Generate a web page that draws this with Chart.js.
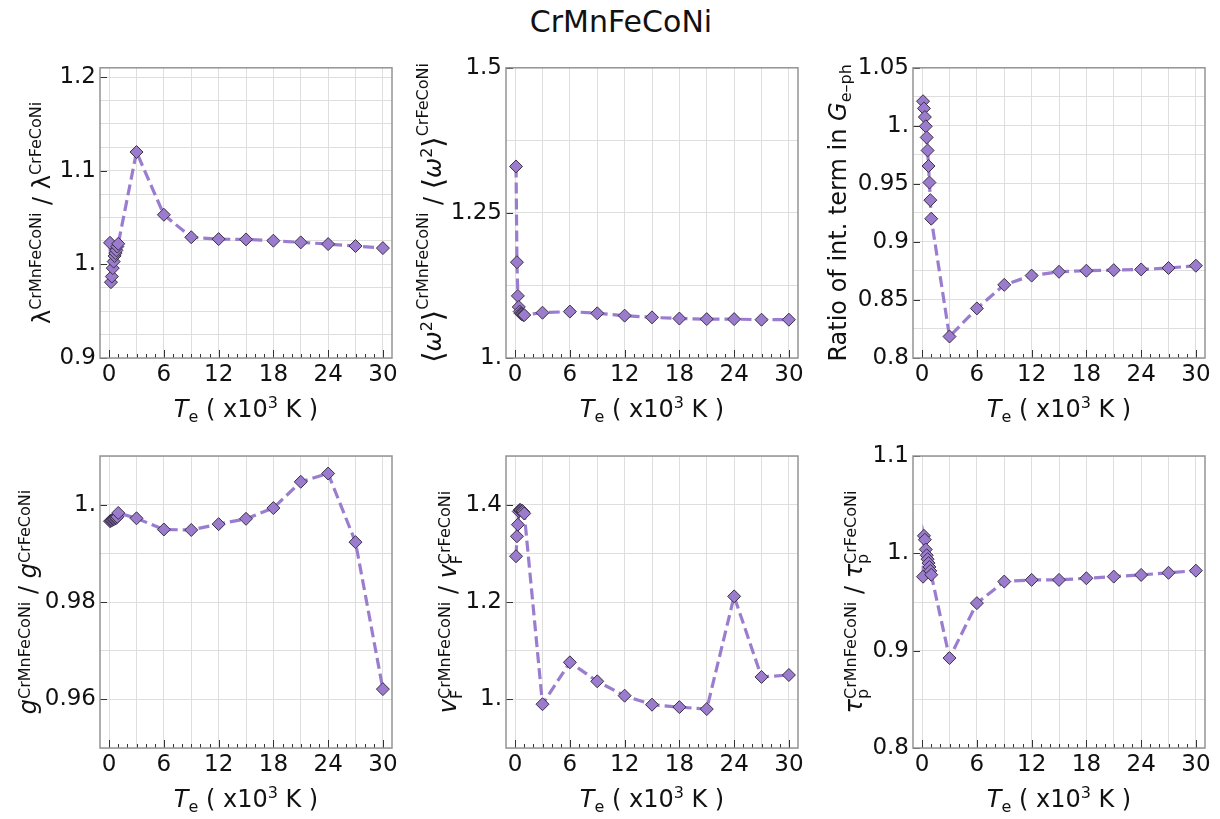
<!DOCTYPE html>
<html>
<head>
<meta charset="utf-8">
<script src="https://cdn.jsdelivr.net/npm/chart.js@4.4.0/dist/chart.umd.min.js"></script>
<style>
  body { margin: 0; background: #fff; width: 1220px; height: 819px; position: relative; overflow: hidden; font-family: "DejaVu Sans"; }
  #title { position: absolute; left: 11px; top: 2px; width: 1220px; text-align: center; font-size: 30px; line-height: 40px; color: #111; }
  canvas { position: absolute; }
</style>
</head>
<body>
<div id="title">CrMnFeCoNi</div>
<script>
// electron temperature (x10^3 K)
const temps = [0.1, 0.2, 0.3, 0.4, 0.5, 0.6, 0.7, 0.8, 0.9, 1.0, 3, 6, 9, 12, 15, 18, 21, 24, 27, 30];

// ratios CrMnFeCoNi / CrFeCoNi
const lambdaRatio = [1.023, 0.981, 0.987, 0.996, 1.003, 1.009, 1.012, 1.015, 1.019, 1.022, 1.120, 1.053, 1.029, 1.027, 1.0267, 1.0253, 1.0235, 1.0217, 1.0196, 1.0174];
const omegaRatio = [1.330, 1.165, 1.107, 1.088, 1.080, 1.077, 1.076, 1.075, 1.074, 1.074, 1.078, 1.080, 1.077, 1.073, 1.070, 1.068, 1.067, 1.067, 1.066, 1.066];
const gephRatio = [1.0212, 1.015, 1.0076, 0.9996, 0.990, 0.9788, 0.9654, 0.9512, 0.936, 0.920, 0.8185, 0.8427, 0.863, 0.871, 0.8743, 0.8752, 0.8757, 0.8763, 0.8775, 0.8795];
const dosRatio = [0.9966, 0.9967, 0.9968, 0.9969, 0.9970, 0.9971, 0.9972, 0.9973, 0.9975, 0.9983, 0.9972, 0.9949, 0.9948, 0.9960, 0.9971, 0.9993, 1.0047, 1.0064, 0.9923, 0.9621];
const vfRatio = [1.294, 1.335, 1.359, 1.386, 1.389, 1.389, 1.388, 1.387, 1.385, 1.382, 0.990, 1.076, 1.037, 1.0075, 0.989, 0.984, 0.980, 1.2116, 1.046, 1.050];
const tauRatio = [0.976, 1.018, 1.014, 1.004, 0.998, 0.994, 0.990, 0.986, 0.982, 0.978, 0.8924, 0.9488, 0.971, 0.9727, 0.9727, 0.9744, 0.9761, 0.9778, 0.980, 0.9822];

// tick labels
const xTicks = [0, 6, 12, 18, 24, 30];
const lambdaTicks = [0.9, 1.0, 1.1, 1.2];
const omegaTicks = [1.0, 1.25, 1.5];
const gephTicks = [0.8, 0.85, 0.9, 0.95, 1.0, 1.05];
const dosTicks = [0.96, 0.98, 1.0];
const vfTicks = [1.0, 1.2, 1.4];
const tauTicks = [0.8, 0.9, 1.0, 1.1];

const FONT = '"DejaVu Sans"';
const LINE = 'rgba(150, 118, 204, 0.95)';
const FILL = '#9a7bcc';
const EDGE = '#3a3148';
const GRID = '#dedede';
const FRAME = '#949494';

const colLeft = [0, 406, 812], colW = [406, 406, 408];
const rowTop = [50, 430], rowH = [380, 389];
const plotLeft = [100, 506, 913], plotTop = [66, 456], PLOT = 292;

const TICK = 23, BIG = 24, SMALL = 16;

const sup = (t, rise) => ({ t, size: SMALL, rise });
const bracket = t => ({ t, size: 29, rise: -2 });
const panels = [
  {
    values: lambdaRatio, ticks: lambdaTicks, min: 0.9, max: 1.21, step: 0.025, titleX: 50,
    title: [{ t: 'λ' }, sup('CrMnFeCoNi', 9), { t: ' / ' }, { t: 'λ' }, sup('CrFeCoNi', 9)]
  },
  {
    values: omegaRatio, ticks: omegaTicks, min: 1.0, max: 1.5, step: 0.125, titleX: 441,
    title: [bracket('⟨'), { t: 'ω', i: true }, sup('2', 9), bracket('⟩'), sup('CrMnFeCoNi', 13),
            { t: ' / ' }, bracket('⟨'), { t: 'ω', i: true }, sup('2', 9), bracket('⟩'), sup('CrFeCoNi', 13)]
  },
  {
    values: gephRatio, ticks: gephTicks, min: 0.8, max: 1.05, step: 0.025, titleX: 846,
    title: [{ t: 'Ratio of int. term in ' }, { t: 'G', i: true }, sup('e–ph', -5)]
  },
  {
    values: dosRatio, ticks: dosTicks, min: 0.95, max: 1.01, step: 0.01, titleX: 36,
    title: [{ t: 'g', i: true }, sup('CrMnFeCoNi', 6), { t: ' / ' }, { t: 'g', i: true }, sup('CrFeCoNi', 6)]
  },
  {
    values: vfRatio, ticks: vfTicks, min: 0.9, max: 1.5, step: 0.1, titleX: 456,
    title: [{ t: 'v', i: true }, { ...sup('CrMnFeCoNi', 6), under: sup('F', -6) }, { t: ' / ' },
            { t: 'v', i: true }, { ...sup('CrFeCoNi', 6), under: sup('F', -6) }]
  },
  {
    values: tauRatio, ticks: tauTicks, min: 0.8, max: 1.1, step: 0.05, titleX: 862,
    title: [{ t: 'τ', i: true }, { ...sup('CrMnFeCoNi', 6), under: sup('p', -6) }, { t: ' / ' },
            { t: 'τ', i: true }, { ...sup('CrFeCoNi', 6), under: sup('p', -6) }]
  }
];

const xTitle = [{ t: 'T', i: true }, sup('e', -5), { t: ' ( x10' }, sup('3', 9), { t: ' K )' }];

function segFont(seg) {
  return (seg.i ? 'italic ' : '') + (seg.size || BIG) + 'px ' + FONT;
}

function segWidth(ctx, seg) {
  ctx.font = segFont(seg);
  let w = ctx.measureText(seg.t).width;
  if (seg.under) {
    ctx.font = segFont(seg.under);
    w = Math.max(w, ctx.measureText(seg.under.t).width);
  }
  return w;
}

// draws a run of text pieces with super/subscripts, centred on (cx, cy)
function drawRich(ctx, segs, cx, cy, vertical) {
  ctx.save();
  ctx.translate(cx, cy);
  if (vertical) ctx.rotate(-Math.PI / 2);
  ctx.fillStyle = '#111';
  ctx.textBaseline = 'alphabetic';
  ctx.textAlign = 'left';
  const widths = segs.map(s => segWidth(ctx, s));
  const total = widths.reduce((a, b) => a + b, 0);
  let x = -total / 2;
  segs.forEach((s, k) => {
    ctx.font = segFont(s);
    ctx.fillText(s.t, x, -(s.rise || 0));
    if (s.under) {
      ctx.font = segFont(s.under);
      ctx.fillText(s.under.t, x, -(s.under.rise || 0));
    }
    x += widths[k];
  });
  ctx.restore();
}

const near = (a, b) => Math.abs(a - b) < 1e-9;

function tickText(v) {
  let s = String(+v.toFixed(3));
  if (s.indexOf('.') < 0) s += '.';
  return s;
}

// frame, inward tick marks and the axis titles
const panelDeco = {
  id: 'panelDeco',
  afterDraw(chart, args, opts) {
    const ctx = chart.ctx;
    const a = chart.chartArea;
    const xs = chart.scales.x, ys = chart.scales.y;
    ctx.save();
    ctx.strokeStyle = '#333';
    ctx.lineWidth = 1;
    ctx.beginPath();
    for (let v = 0; v <= 30; v++) {
      const px = Math.round(xs.getPixelForValue(v)) + 0.5;
      const len = v % 6 === 0 ? 8 : 4;
      ctx.moveTo(px, a.bottom);
      ctx.lineTo(px, a.bottom - len);
    }
    opts.ticks.forEach(v => {
      const py = Math.round(ys.getPixelForValue(v)) + 0.5;
      ctx.moveTo(a.left, py);
      ctx.lineTo(a.left + 7, py);
    });
    ctx.stroke();
    ctx.strokeStyle = FRAME;
    ctx.lineWidth = 1.5;
    ctx.strokeRect(a.left, a.top, a.right - a.left, a.bottom - a.top);
    ctx.restore();

    drawRich(ctx, xTitle, (a.left + a.right) / 2, a.bottom + 59, false);
    drawRich(ctx, opts.title, opts.titleX, (a.top + a.bottom) / 2, true);
  }
};

panels.forEach((p, idx) => {
  const col = idx % 3, row = Math.floor(idx / 3);
  const canvas = document.createElement('canvas');
  canvas.width = colW[col];
  canvas.height = rowH[row];
  canvas.style.left = colLeft[col] + 'px';
  canvas.style.top = rowTop[row] + 'px';
  document.body.appendChild(canvas);

  const left = plotLeft[col] - colLeft[col];
  const top = plotTop[row] - rowTop[row];
  const below = rowH[row] - top - PLOT;
  const yGrid = [];
  for (let v = p.min; v <= p.max + 1e-9; v += p.step) yGrid.push(+v.toFixed(4));
  const xGrid = [];
  for (let v = 0; v <= 30; v += 3) xGrid.push(v);

  new Chart(canvas, {
    type: 'scatter',
    data: {
      datasets: [{
        data: temps.map((t, i) => ({ x: t, y: p.values[i] })),
        showLine: true,
        borderColor: LINE,
        borderWidth: 3.2,
        borderDash: [11, 5],
        pointStyle: 'rectRot',
        pointRadius: 6.5,
        pointBackgroundColor: FILL,
        pointBorderColor: EDGE,
        pointBorderWidth: 1
      }]
    },
    options: {
      responsive: false,
      devicePixelRatio: 1,
      animation: false,
      layout: { padding: { left: 0, top: top, right: colW[col] - left - PLOT, bottom: 0 } },
      plugins: {
        legend: { display: false },
        tooltip: { enabled: false },
        panelDeco: { ticks: p.ticks, title: p.title, titleX: p.titleX - colLeft[col] }
      },
      scales: {
        x: {
          type: 'linear', min: -1, max: 31,
          afterFit: s => { s.height = below; },
          afterBuildTicks: s => { s.ticks = xGrid.map(v => ({ value: v })); },
          ticks: {
            autoSkip: false, maxRotation: 0, padding: 3, color: '#111',
            font: { family: FONT, size: TICK },
            callback: v => xTicks.some(t => near(t, v)) ? String(v) : ''
          },
          grid: { color: GRID, lineWidth: 1, drawTicks: false },
          border: { display: false }
        },
        y: {
          type: 'linear', min: p.min, max: p.max,
          afterFit: s => { s.width = left; },
          afterBuildTicks: s => { s.ticks = yGrid.map(v => ({ value: v })); },
          ticks: {
            autoSkip: false, padding: 4, color: '#111',
            font: { family: FONT, size: TICK },
            callback: v => p.ticks.some(t => near(t, v)) ? tickText(v) : ''
          },
          grid: { color: GRID, lineWidth: 1, drawTicks: false },
          border: { display: false }
        }
      }
    },
    plugins: [panelDeco]
  });
});
</script>
</body>
</html>
